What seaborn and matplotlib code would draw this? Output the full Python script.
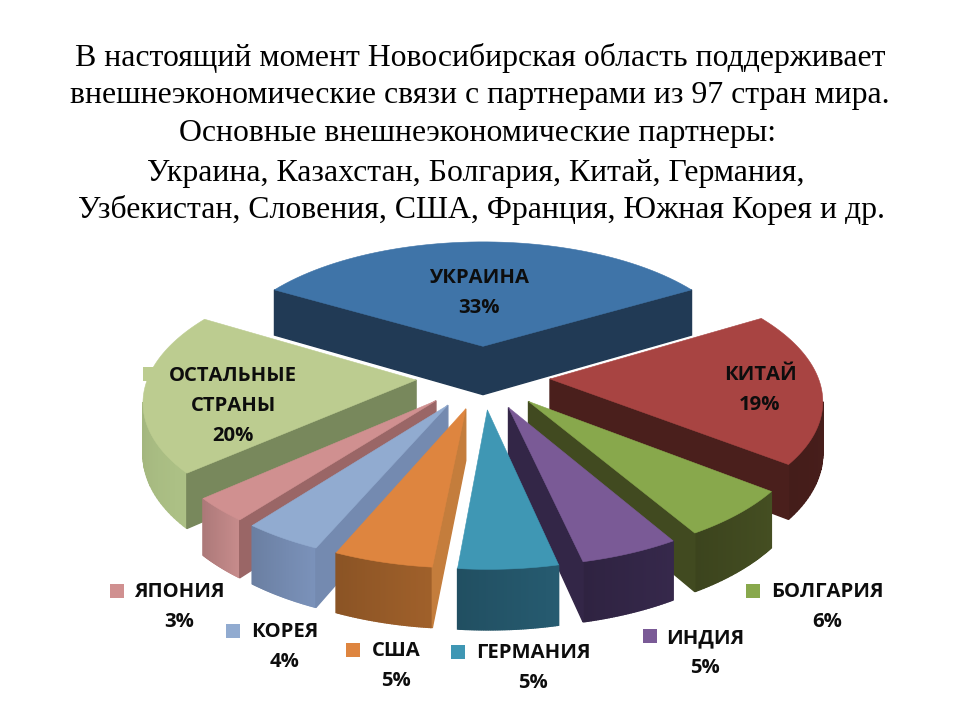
import numpy as np
import matplotlib
matplotlib.use("Agg")
import matplotlib.pyplot as plt
from matplotlib.colors import to_rgb
import seaborn as sns

# values, clockwise from the top slice
names = ["УКРАИНА", "КИТАЙ", "БОЛГАРИЯ", "ИНДИЯ", "ГЕРМАНИЯ", "США", "КОРЕЯ", "ЯПОНИЯ", "ОСТАЛЬНЫЕ\nСТРАНЫ"]
shares = [33, 19, 6, 5, 5, 5, 4, 3, 20]

title_lines = [
    "В настоящий момент Новосибирская область поддерживает",
    "внешнеэкономические связи с партнерами из 97 стран мира.",
    "Основные внешнеэкономические партнеры:",
    "Украина, Казахстан, Болгария, Китай, Германия,",
    "Узбекистан, Словения, США, Франция, Южная Корея и др.",
]
title_x = [480, 480, 478, 476, 481]
title_y = [58, 95, 134, 173, 210]

top_colors = ["#3F74A8", "#A84442", "#88A84C", "#7A5A96", "#3F97B4", "#DE853F", "#91ABD0", "#D09090", "#BCCC90"]
outer_colors = ["#213A55", "#4A1F1C", "#414A20", "#332647", "#24566A", "#975B28", "#748AB0", "#BC8484", "#A3B67E"]
edge_colors = ["#213A55", "#4A1F1C", "#414A20", "#332647", "#24566A", "#C47D3C", "#748AB0", "#9A6666", "#78885C"]

# label centre (x, y of first line), key position (None = no separate spot)
label_pos = [(479, 278), (760, 375), (827, 592), (705, 638), (533, 653), (396, 651), (285, 632), (179, 592), (233, 376)]
key_pos = [None, None, (753, 591), (650, 636), (458, 652), (353, 650), (233, 631), (117, 591), (150, 374)]

# projection of the pie
cx, cy = 483, 377
ax_r, by_r = 268, 127
persp = 0.14
explode = 0.25
depth = 50


def project(x, y, z=0.0):
    w = 1 / (1 + persp * y)
    return cx + ax_r * x * w, cy - by_r * y * w + depth * z * w


def quad_area(xs, ys):
    return 0.5 * np.sum(xs * np.roll(ys, -1) - np.roll(xs, -1) * ys)


def wall(ax, x3, y3, color, zo):
    # extruded strip between two points on the pie, drawn only if it faces us
    px1, py1 = project(x3[0], y3[0])
    px2, py2 = project(x3[1], y3[1])
    px3, py3 = project(x3[1], y3[1], 1)
    px4, py4 = project(x3[0], y3[0], 1)
    xs = np.array([px1, px2, px3, px4])
    ys = np.array([py1, py2, py3, py4])
    if quad_area(xs, ys) < 0:
        ax.fill(xs, ys, color=color, lw=1.0, zorder=zo)


sns.set_theme(style="white")
plt.rcParams["font.family"] = ["Open Sans", "DejaVu Sans"]

fig, ax = plt.subplots(figsize=(9.6, 7.2), dpi=100)
fig.subplots_adjust(0, 0, 1, 1)
ax.set_xlim(0, 960)
ax.set_ylim(720, 0)
ax.axis("off")

fractions = np.array(shares) / sum(shares)
ends = np.pi / 2 + fractions[0] * np.pi - np.cumsum(fractions) * 2 * np.pi
starts = ends + fractions * 2 * np.pi
mids = (starts + ends) / 2

order = np.argsort(-np.sin(mids))
for rank, i in enumerate(order):
    zo = 10 + rank * 5
    ox, oy = explode * np.cos(mids[i]), explode * np.sin(mids[i])
    theta = np.linspace(starts[i], ends[i], 60)
    ring_x = ox + np.cos(theta)
    ring_y = oy + np.sin(theta)

    base = np.array(to_rgb(outer_colors[i]))
    for k in range(len(theta) - 1):
        shade = 1.06 - 0.14 * k / (len(theta) - 2)
        wall(ax, ring_x[k:k + 2], ring_y[k:k + 2], tuple(np.clip(base * shade, 0, 1)), zo)

    wall(ax, [ring_x[-1], ox], [ring_y[-1], oy], edge_colors[i], zo + 1)
    wall(ax, [ox, ring_x[0]], [oy, ring_y[0]], edge_colors[i], zo + 1)

    tx, ty = project(np.r_[ox, ring_x], np.r_[oy, ring_y])
    ax.fill(tx, ty, color=top_colors[i], lw=0.4, zorder=zo + 2)

for i, name in enumerate(names):
    lx, ly = label_pos[i]
    lines = name.split("\n") + [f"{shares[i]}%"]
    for n, line in enumerate(lines):
        ax.text(lx, ly + n * 30, line, ha="center", va="center", fontsize=14.6,
                fontweight="bold", color="#0d0d0d", zorder=100)
    if key_pos[i] is not None:
        ax.scatter(*key_pos[i], marker="s", s=90, color=top_colors[i], lw=0, zorder=9)

for line, x, y in zip(title_lines, title_x, title_y):
    ax.text(x, y, line, ha="center", va="center", fontsize=22.9, family="Liberation Serif", color="black")

fig.savefig("out.png", dpi=100)
